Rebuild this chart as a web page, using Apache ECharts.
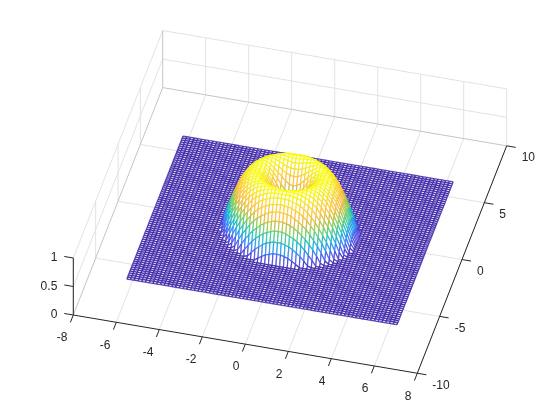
<!DOCTYPE html>
<html>
<head>
<meta charset="utf-8">
<style>
html, body { margin: 0; padding: 0; background: #fff; }
#chart { width: 560px; height: 420px; }
</style>
</head>
<body>
<div id="chart"></div>
<script src="https://cdn.jsdelivr.net/npm/echarts@6/dist/echarts.min.js"></script>
<script>
var xTicks = [-8, -6, -4, -2, 0, 2, 4, 6, 8];
var yTicks = [-10, -5, 0, 5, 10];
var zTicks = [0, 0.5, 1];
var zTickLabels = ['0', '0.5', '1'];

// mesh runs over +-36 steps of 10 degrees (+-2pi) in x and y
var meshSteps = 36;
var meshStep = Math.PI / 18;

var domeHeights = [
  [0, .17, .34, .50, .64, .77, .87, .94, .98, 1, .98, .94, .87, .77, .64, .50, .34, .17],
  [.17, .24, .38, .52, .66, .78, .87, .94, .99, 1, .98, .94, .86, .76, .64, .50, .34, .17],
  [.34, .38, .47, .59, .70, .81, .89, .96, .99, 1, .98, .93, .85, .75, .62, .48, .32, .15],
  [.50, .52, .59, .67, .77, .85, .92, .97, 1, 1, .97, .91, .83, .73, .60, .45, .30, .13],
  [.64, .66, .70, .77, .83, .90, .95, .99, 1, .99, .95, .89, .80, .69, .56, .42, .26, .09],
  [.77, .78, .81, .85, .90, .94, .98, 1, 1, .97, .93, .86, .77, .65, .52, .37, .21, .05],
  [.87, .87, .89, .92, .95, .98, 1, 1, .98, .95, .89, .82, .72, .60, .46, .32, .16],
  [.94, .94, .96, .97, .99, 1, 1, .99, .96, .91, .85, .76, .66, .54, .40, .25, .09],
  [.98, .99, .99, 1, 1, 1, .98, .96, .92, .86, .79, .69, .58, .46, .32, .17, .02],
  [1, 1, 1, 1, .99, .97, .95, .91, .86, .80, .71, .61, .50, .37, .24, .09],
  [.98, .98, .98, .97, .95, .93, .89, .85, .79, .71, .62, .52, .40, .28, .14],
  [.94, .94, .93, .91, .89, .86, .82, .76, .69, .61, .52, .41, .30, .17, .03],
  [.87, .86, .85, .83, .80, .77, .72, .66, .58, .50, .40, .30, .18, .05],
  [.77, .76, .75, .73, .69, .65, .60, .54, .46, .37, .28, .17, .05],
  [.64, .64, .62, .60, .56, .52, .46, .40, .32, .24, .14, .03],
  [.50, .50, .48, .45, .42, .37, .32, .25, .17, .09],
  [.34, .34, .32, .30, .26, .21, .16, .09, .02],
  [.17, .17, .15, .13, .09, .05]
];

// parula
var parula = [
  [62, 38, 168], [72, 82, 244], [46, 135, 247], [17, 177, 214], [55, 200, 151],
  [128, 204, 89], [205, 187, 59], [253, 190, 61], [250, 205, 50], [246, 230, 32], [249, 251, 14]
];

function heightAt(i, j) {
  var row = domeHeights[Math.abs(j)];
  if (!row) return 0;
  var v = row[Math.abs(i)];
  return v === undefined ? 0 : v;
}

function colorOf(z) {
  var t = Math.max(0, Math.min(1, z)) * (parula.length - 1);
  var k = Math.min(parula.length - 2, Math.floor(t));
  var f = t - k;
  var a = parula[k], b = parula[k + 1];
  return 'rgb(' + Math.round(a[0] + (b[0] - a[0]) * f) + ',' +
    Math.round(a[1] + (b[1] - a[1]) * f) + ',' + Math.round(a[2] + (b[2] - a[2]) * f) + ')';
}

// orthographic view: where x=-8,y=-10,z=0 lands and what one unit along each axis does
function project(x, y, z) {
  return [
    73.3 + (x + 8) * 21.5 + (y + 10) * 4.47,
    315 + (x + 8) * 3.64 - (y + 10) * 11.37 - z * 57
  ];
}

var frameLines = [];
function addLine(a, b, color) {
  frameLines.push(project(a[0], a[1], a[2]).concat(project(b[0], b[1], b[2])).concat([color]));
}
var gridColor = '#e2e2e2', backColor = '#c4c4c4', axisColor = '#262626';

xTicks.forEach(function (x) {
  if (x > -8) addLine([x, -10, 0], [x, 10, 0], gridColor);
  if (x > -8) addLine([x, 10, 0], [x, 10, 1], gridColor);
});
yTicks.forEach(function (y) {
  if (y > -10 && y < 10) addLine([-8, y, 0], [8, y, 0], gridColor);
  if (y < 10) addLine([-8, y, 0], [-8, y, 1], gridColor);
});
zTicks.forEach(function (z) {
  if (z > 0) {
    addLine([-8, 10, z], [8, 10, z], gridColor);
    addLine([-8, -10, z], [-8, 10, z], gridColor);
  }
});
addLine([-8, 10, 0], [8, 10, 0], backColor);
addLine([-8, -10, 0], [-8, 10, 0], backColor);
addLine([-8, 10, 0], [-8, 10, 1], backColor);

addLine([-8, -10, 0], [8, -10, 0], axisColor);
addLine([8, -10, 0], [8, 10, 0], axisColor);
addLine([-8, -10, 0], [-8, -10, 1], axisColor);
xTicks.forEach(function (x) { addLine([x, -10, 0], [x, -10.65, 0], axisColor); });
yTicks.forEach(function (y) { addLine([8, y, 0], [8.42, y, 0], axisColor); });
zTicks.forEach(function (z) { addLine([-8, -10, z], [-8.42, -10, z], axisColor); });

var tickTexts = [];
xTicks.forEach(function (x) {
  var p = project(x, -10, 0);
  tickTexts.push([p[0] - 6, p[1] + 23, String(x), 'right']);
});
yTicks.forEach(function (y) {
  var p = project(8, y, 0);
  tickTexts.push([p[0] + 15, p[1] + 12, String(y), 'left']);
});
zTicks.forEach(function (z, n) {
  var p = project(-8, -10, z);
  tickTexts.push([p[0] - 16, p[1], zTickLabels[n], 'right']);
});

// back to front so the white cell faces hide what is behind them
var cells = [];
for (var j = meshSteps; j > -meshSteps; j--) {
  for (var i = -meshSteps; i < meshSteps; i++) {
    cells.push([i, j]);
  }
}

function renderCell(params, api) {
  var i = api.value(0), j = api.value(1);
  var corners = [[i, j], [i + 1, j], [i + 1, j - 1], [i, j - 1]];
  var zs = corners.map(function (c) { return heightAt(c[0], c[1]); });
  var pts = corners.map(function (c, n) {
    return api.coord(project(c[0] * meshStep, c[1] * meshStep, zs[n]));
  });
  // flat floor needs heavier lines to get the same dark weave
  var flat = zs[0] + zs[1] + zs[2] + zs[3] === 0;
  var children = [{
    type: 'polygon',
    shape: { points: pts },
    style: { fill: '#fff', stroke: null }
  }];
  for (var n = 0; n < 4; n++) {
    var m = (n + 1) % 4;
    children.push({
      type: 'line',
      shape: { x1: pts[n][0], y1: pts[n][1], x2: pts[m][0], y2: pts[m][1] },
      style: { stroke: colorOf((zs[n] + zs[m]) / 2), lineWidth: flat ? 1.3 : 1.2, fill: null, opacity: 0.85 }
    });
  }
  return { type: 'group', children: children };
}

var chart = echarts.init(document.getElementById('chart'));
chart.setOption({
  animation: false,
  grid: { left: 0, right: 0, top: 0, bottom: 0 },
  xAxis: { type: 'value', min: 0, max: 560, show: false },
  yAxis: { type: 'value', min: 0, max: 420, inverse: true, show: false },
  series: [
    {
      type: 'custom',
      coordinateSystem: 'cartesian2d',
      silent: true,
      clip: false,
      z: 1,
      data: frameLines.filter(function (l) { return l[4] !== axisColor; }),
      renderItem: renderFrameLine
    },
    {
      type: 'custom',
      coordinateSystem: 'cartesian2d',
      silent: true,
      clip: false,
      progressive: 0,
      z: 2,
      data: cells,
      renderItem: renderCell
    },
    {
      type: 'custom',
      coordinateSystem: 'cartesian2d',
      silent: true,
      clip: false,
      z: 3,
      data: frameLines.filter(function (l) { return l[4] === axisColor; }),
      renderItem: renderFrameLine
    },
    {
      type: 'custom',
      coordinateSystem: 'cartesian2d',
      silent: true,
      clip: false,
      z: 4,
      data: tickTexts,
      renderItem: function (params, api) {
        var p = api.coord([api.value(0), api.value(1)]);
        var t = tickTexts[params.dataIndex];
        return {
          type: 'text',
          style: {
            x: p[0], y: p[1], text: t[2], align: t[3], verticalAlign: 'middle',
            font: '12px "Liberation Sans", Arial, sans-serif', fill: '#262626'
          }
        };
      }
    }
  ]
});

function renderFrameLine(params, api) {
  var a = api.coord([api.value(0), api.value(1)]);
  var b = api.coord([api.value(2), api.value(3)]);
  return {
    type: 'line',
    shape: { x1: a[0], y1: a[1], x2: b[0], y2: b[1] },
    style: { stroke: api.value(4), lineWidth: 1, fill: null }
  };
}
</script>
</body>
</html>
